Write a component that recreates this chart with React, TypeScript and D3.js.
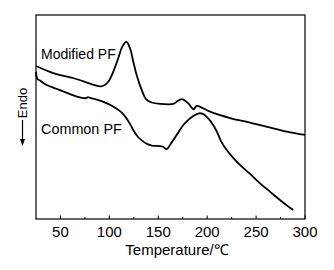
import React from "react";
import * as d3 from "d3";

// Temperature (°C) and heat flow (arbitrary units)
const modifiedT = [25, 43.4, 63.8, 84.3, 90.4, 93.8, 98.9, 104.0, 109.1, 113.2, 117.5, 121.1, 124.5, 127.9, 133.1, 137.5, 143.3, 151.8, 165.4, 168.8, 174.0, 180.7, 185.8, 189.3, 192.7, 202.9, 223.3, 243.8, 281.3, 300];
const modifiedV = [7.5, 7.14, 6.9, 6.57, 6.5, 6.53, 6.73, 7.22, 7.88, 8.45, 8.68, 8.37, 7.71, 7.06, 6.32, 5.88, 5.71, 5.64, 5.64, 5.75, 5.88, 5.67, 5.38, 5.54, 5.5, 5.26, 4.95, 4.73, 4.28, 4.12];

const commonT = [25, 26.5, 29.1, 33.2, 39.3, 47.5, 56.7, 66.9, 75.6, 78.2, 81.2, 86.3, 97.6, 104.7, 111.9, 117.0, 121.1, 125.2, 129.3, 133.4, 138.5, 143.6, 149.7, 154.8, 158.6, 162.0, 165.4, 170.2, 175.6, 180.4, 185.8, 191.6, 195.7, 199.5, 203.9, 209.7, 214.1, 220.0, 226.4, 233.5, 243.8, 254.0, 264.2, 274.4, 281.6, 288.0];
const commonV = [7.21, 6.86, 6.79, 6.64, 6.5, 6.35, 6.18, 6.0, 5.92, 5.97, 5.92, 5.86, 5.67, 5.49, 5.25, 4.97, 4.66, 4.3, 4.02, 3.84, 3.68, 3.6, 3.58, 3.54, 3.42, 3.63, 3.87, 4.22, 4.61, 4.85, 5.05, 5.18, 5.15, 5.01, 4.77, 4.31, 3.82, 3.38, 3.01, 2.65, 2.21, 1.75, 1.34, 0.93, 0.66, 0.44];

const majorTicks = [50, 100, 150, 200, 250, 300];
const minorTicks = [75, 125, 175, 225, 275];
const seriesLabels = ["Modified PF", "Common PF"];
const xTitle = "Temperature/\u2103";
const yTitle = "Endo";

const W = 334;
const H = 270;
const m = { left: 36, right: 305, top: 15, bottom: 219 };

export default function App() {
  const x = d3.scaleLinear().domain([25, 300]).range([m.left, m.right]);
  const y = d3.scaleLinear().domain([0, 10]).range([m.bottom, m.top]);
  const line = d3
    .line<[number, number]>()
    .x((d) => x(d[0]))
    .y((d) => y(d[1]))
    .curve(d3.curveCatmullRom.alpha(0.5));
  const modData = modifiedT.map((t, i) => [t, modifiedV[i]] as [number, number]);
  const comData = commonT.map((t, i) => [t, commonV[i]] as [number, number]);
  const font = "'Liberation Sans', Arial, sans-serif";

  return (
    <svg
      width={W}
      height={H}
      style={{ position: "absolute", left: 0, top: 0, background: "#fff" }}
      fontFamily={font}
    >
      <defs>
        <clipPath id="tickclip">
          <rect x={0} y={0} width={317} height={H} />
        </clipPath>
      </defs>
      <rect x={0} y={0} width={W} height={H} fill="#fff" />
      <path d={line(modData) || ""} fill="none" stroke="#000" strokeWidth={1.8} />
      <path d={line(comData) || ""} fill="none" stroke="#000" strokeWidth={1.8} />
      <rect
        x={m.left}
        y={m.top}
        width={m.right - m.left}
        height={m.bottom - m.top}
        fill="none"
        stroke="#000"
        strokeWidth={1.2}
      />
      {majorTicks.map((t) => (
        <line key={"M" + t} x1={x(t)} x2={x(t)} y1={m.bottom} y2={m.bottom - 3.5} stroke="#000" strokeWidth={1} />
      ))}
      {minorTicks.map((t) => (
        <line key={"m" + t} x1={x(t)} x2={x(t)} y1={m.bottom} y2={m.bottom - 2} stroke="#000" strokeWidth={1} />
      ))}
      <g clipPath="url(#tickclip)">
        {majorTicks.map((t) => (
          <text key={"l" + t} x={x(t)} y={236.5} textAnchor="middle" fontSize={15} fill="#000">
            {t}
          </text>
        ))}
      </g>
      <text x={177} y={255} textAnchor="middle" fontSize={15} fill="#000">
        {xTitle}
      </text>
      <text x={41} y={58.5} fontSize={14} fill="#000">
        {seriesLabels[0]}
      </text>
      <text x={41} y={133.5} fontSize={14.4} fill="#000">
        {seriesLabels[1]}
      </text>
      <text transform="translate(27,103) rotate(-90)" textAnchor="middle" fontSize={13} fill="#000">
        {yTitle}
      </text>
      <line x1={22.5} x2={22.5} y1={120} y2={140} stroke="#000" strokeWidth={1.2} />
      <path d="M20,139 L25,139 L22.5,146 Z" fill="#000" />
    </svg>
  );
}
